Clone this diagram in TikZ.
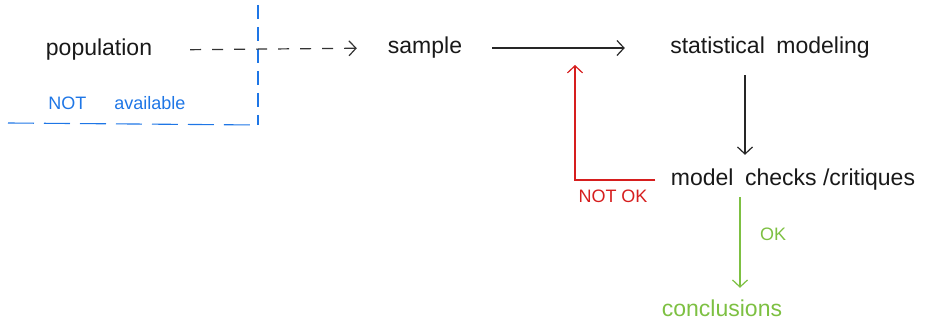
\documentclass[tikz,border=0pt]{standalone}
\usepackage{fontspec}
\setmainfont{Liberation Sans}
\usetikzlibrary{arrows.meta}
\definecolor{hblue}{RGB}{30,118,230}
\definecolor{hred}{RGB}{214,30,30}
\definecolor{hgreen}{RGB}{125,192,66}
\tikzset{
  lbl/.style={inner sep=0pt, minimum height=30pt, font=\fontsize{23}{27}\selectfont, text=black!90},
  note/.style={inner sep=0pt, font=\fontsize{18}{21}\selectfont},
  conn/.style={line width=1.2pt, -{Straight Barb[length=7pt,width=15pt]}},
  dashconn/.style={conn, dash pattern=on 11pt off 11pt},
  bluedash/.style={hblue, line width=1.1pt, dash pattern=on 26pt off 10pt},
}
\begin{document}
\begin{tikzpicture}[x=1pt,y=-1pt]
\useasboundingbox (0,0) rectangle (929,320);
% nodes
\node[lbl, minimum width=110pt] (pop) at (99,50) {population};
\node[lbl, minimum width=78pt] (samp) at (425,48) {sample};
\node[lbl, minimum width=230pt] (stat) at (770,48) {statistical\enspace modeling};
\node[lbl, minimum width=263pt] (mcc) at (793,180) {model\enspace checks /critiques};
\node[lbl, minimum width=132pt, text=hgreen] (concl) at (722,308) {conclusions};
\node[note, text=hblue] (nava) at (117,103) {NOT\hspace{28pt}available};
\node[note, text=hred] (notok) at (613,196) {NOT OK};
\node[note, text=hgreen] (ok) at (773,234) {OK};
% blue boundary
\coordinate (vtop) at (258,5);
\coordinate (corner) at (258,125);
\coordinate (hleft) at (8,123);
\draw[bluedash, dash pattern=on 14pt off 8pt] (vtop) -- (corner);
\draw[bluedash] (hleft) -- (corner);
% connectors
\draw[dashconn, black!80, shorten <=36pt, shorten >=29pt] (pop.east) -- (samp.west);
\draw[conn, black!85, shorten <=28pt, shorten >=30pt] (samp.east) -- (stat.west);
\draw[conn, black!85, shorten <=12pt, shorten >=10pt] ([xshift=-25pt]stat.south) -- ([xshift=-25pt]stat.south |- mcc.north);
\coordinate (fb) at (575,48);
\draw[conn, hred, shorten <=6pt, shorten >=17pt] (mcc.west) -| (fb);
\draw[conn, hgreen, shorten <=2pt, shorten >=5pt] ([xshift=18pt]concl.north |- mcc.south) -- ([xshift=18pt]concl.north);
\end{tikzpicture}
\end{document}
